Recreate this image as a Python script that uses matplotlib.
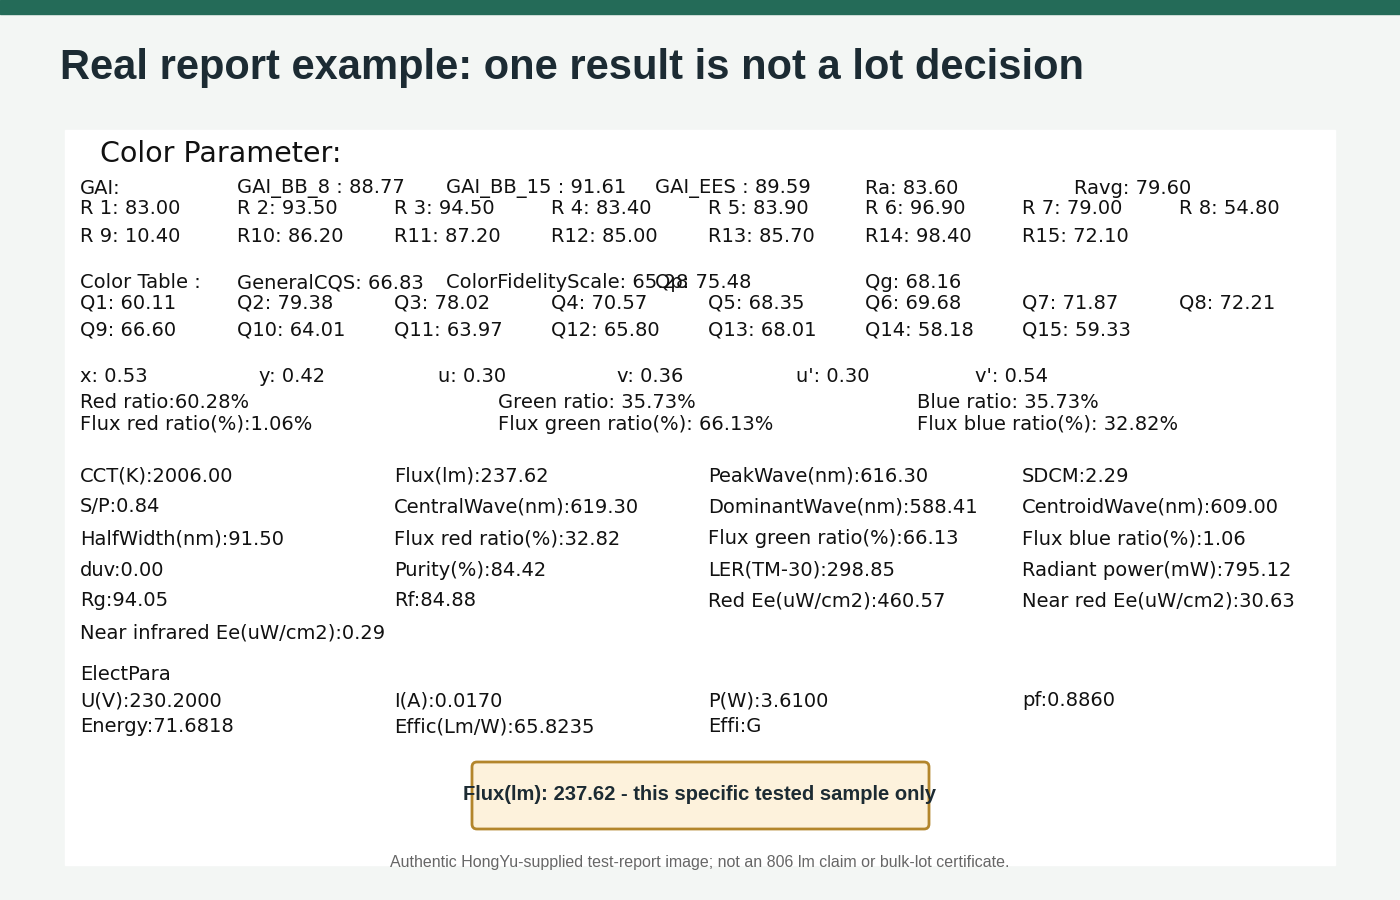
import matplotlib.pyplot as plt
from matplotlib.patches import Rectangle, FancyBboxPatch

W, H = 1400, 900

title = "Real report example: one result is not a lot decision"
gai_row = ["GAI:", "GAI_BB_8 : 88.77", "GAI_BB_15 : 91.61", "GAI_EES : 89.59", "Ra: 83.60", "Ravg: 79.60"]
r_row1 = ["R 1: 83.00", "R 2: 93.50", "R 3: 94.50", "R 4: 83.40", "R 5: 83.90", "R 6: 96.90", "R 7: 79.00", "R 8: 54.80"]
r_row2 = ["R 9: 10.40", "R10: 86.20", "R11: 87.20", "R12: 85.00", "R13: 85.70", "R14: 98.40", "R15: 72.10"]
ct_row = ["Color Table :", "GeneralCQS: 66.83", "ColorFidelityScale: 65.28", "Qp: 75.48", "Qg: 68.16"]
q_row1 = ["Q1: 60.11", "Q2: 79.38", "Q3: 78.02", "Q4: 70.57", "Q5: 68.35", "Q6: 69.68", "Q7: 71.87", "Q8: 72.21"]
q_row2 = ["Q9: 66.60", "Q10: 64.01", "Q11: 63.97", "Q12: 65.80", "Q13: 68.01", "Q14: 58.18", "Q15: 59.33"]
xy_row = ["x: 0.53", "y: 0.42", "u: 0.30", "v: 0.36", "u': 0.30", "v': 0.54"]
ratio_row = ["Red ratio:60.28%", "Green ratio: 35.73%", "Blue ratio: 35.73%"]
flux_ratio_row = ["Flux red ratio(%):1.06%", "Flux green ratio(%): 66.13%", "Flux blue ratio(%): 32.82%"]
photo_rows = [
    ["CCT(K):2006.00", "Flux(lm):237.62", "PeakWave(nm):616.30", "SDCM:2.29"],
    ["S/P:0.84", "CentralWave(nm):619.30", "DominantWave(nm):588.41", "CentroidWave(nm):609.00"],
    ["HalfWidth(nm):91.50", "Flux red ratio(%):32.82", "Flux green ratio(%):66.13", "Flux blue ratio(%):1.06"],
    ["duv:0.00", "Purity(%):84.42", "LER(TM-30):298.85", "Radiant power(mW):795.12"],
    ["Rg:94.05", "Rf:84.88", "Red Ee(uW/cm2):460.57", "Near red Ee(uW/cm2):30.63"],
    ["Near infrared Ee(uW/cm2):0.29"],
]
elect_rows = [
    ["ElectPara"],
    ["U(V):230.2000", "I(A):0.0170", "P(W):3.6100", "pf:0.8860"],
    ["Energy:71.6818", "Effic(Lm/W):65.8235", "Effi:G"],
]
callout = "Flux(lm): 237.62 - this specific tested sample only"
footnote = "Authentic HongYu-supplied test-report image; not an 806 lm claim or bulk-lot certificate."

fig = plt.figure(figsize=(14, 9), dpi=100)
fig.patch.set_facecolor("#f3f6f4")
ax = fig.add_axes([0, 0, 1, 1])
ax.set_xlim(0, W)
ax.set_ylim(H, 0)
ax.axis("off")

ax.add_patch(Rectangle((0, 0), W, 14, color="#246b58"))
ax.text(60, 68, title, fontsize=30, fontweight="bold", color="#1c2b33", va="center", family="Liberation Sans")
ax.add_patch(Rectangle((65, 130), 1270, 735, color="white"))
ax.text(100, 154, "Color Parameter:", fontsize=20.5, va="center", color="#111")

fs = 14
def row(items, xs, y):
    for s, x in zip(items, xs):
        ax.text(x, y, s, fontsize=fs, va="center", color="#111")

grid8 = [80 + 157 * i for i in range(8)]
grid4 = [80, 394, 708, 1022]
row(gai_row, [80, 237, 446, 655, 865, 1074], 188)
row(r_row1, grid8, 209)
row(r_row2, grid8, 236)
row(ct_row, [80, 237, 446, 655, 865], 283)
row(q_row1, grid8, 303)
row(q_row2, grid8, 330)
row(xy_row, [80 + 179 * i for i in range(6)], 377)
row(ratio_row, [80, 498, 917], 402)
row(flux_ratio_row, [80, 498, 917], 424)
for i, r in enumerate(photo_rows):
    row(r, grid4, [476, 507, 539, 570, 601, 633][i])
for i, r in enumerate(elect_rows):
    row(r, grid4, [675, 701, 727][i])

ax.add_patch(FancyBboxPatch((472, 762), 457, 67, boxstyle="round,pad=0,rounding_size=5",
                            facecolor="#fdf2dc", edgecolor="#b3862c", linewidth=2))
ax.text(700, 795, callout, fontsize=14.5, fontweight="bold", ha="center", va="center",
        color="#1c2b33", family="Liberation Sans")
ax.text(700, 862, footnote, fontsize=11.5, ha="center", va="center", color="#666",
        family="Liberation Sans")

fig.savefig("out.png", dpi=100, facecolor=fig.get_facecolor())
